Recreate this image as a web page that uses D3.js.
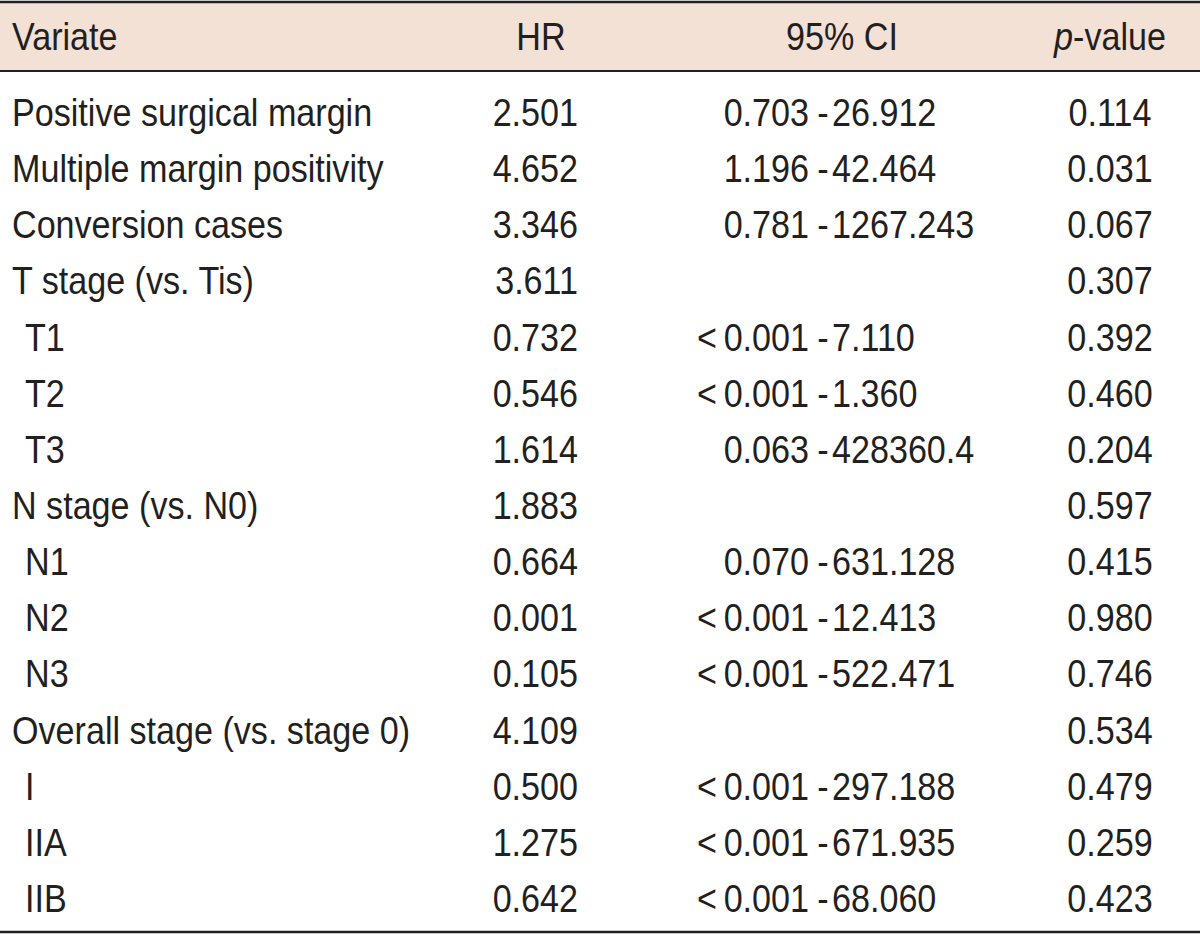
<!DOCTYPE html>
<html>
<head>
<meta charset="utf-8">
<script src="https://cdn.jsdelivr.net/npm/d3@7"></script>
<style>
  html, body { margin: 0; padding: 0; background: #fff; }
  svg { display: block; }
  text { font-family: "Liberation Sans", Arial, sans-serif; fill: #231f20; }
</style>
</head>
<body>
<script>
const headers = ["Variate", "HR", "95% CI", "p-value"];
const variates = ["Positive surgical margin", "Multiple margin positivity", "Conversion cases",
  "T stage (vs. Tis)", "T1", "T2", "T3", "N stage (vs. N0)", "N1", "N2", "N3",
  "Overall stage (vs. stage 0)", "I", "IIA", "IIB"];
const indented = [false, false, false, false, true, true, true, false, true, true, true, false, true, true, true];
const hr = ["2.501", "4.652", "3.346", "3.611", "0.732", "0.546", "1.614", "1.883", "0.664", "0.001", "0.105", "4.109", "0.500", "1.275", "0.642"];
const ciLow = ["0.703", "1.196", "0.781", "", "<\u20090.001", "<\u20090.001", "0.063", "", "0.070", "<\u20090.001", "<\u20090.001", "", "<\u20090.001", "<\u20090.001", "<\u20090.001"];
const ciHigh = ["26.912", "42.464", "1267.243", "", "7.110", "1.360", "428360.4", "", "631.128", "12.413", "522.471", "", "297.188", "671.935", "68.060"];
const pValues = ["0.114", "0.031", "0.067", "0.307", "0.392", "0.460", "0.204", "0.597", "0.415", "0.980", "0.746", "0.534", "0.479", "0.259", "0.423"];

const W = 1200, H = 935;
const svg = d3.select("body").append("svg").attr("width", W).attr("height", H);

const fs = 39;
const sx = 0.875;
const rows = d3.range(variates.length);
const y = d3.scaleLinear().domain([0, variates.length - 1]).range([126, 126 + 56.14 * 14]);

function place(sel, xf, yf) {
  return sel.attr("transform", (d, i) => {
    const xv = typeof xf === "function" ? xf(d, i) : xf;
    const yv = typeof yf === "function" ? yf(d, i) : yf;
    return `translate(${xv},${yv}) scale(${sx},1)`;
  });
}

// header band
svg.append("rect").attr("x", 0).attr("y", 2).attr("width", W).attr("height", 69).attr("fill", "#f3e1d6");
svg.append("line").attr("x1", 0).attr("x2", W).attr("y1", 2).attr("y2", 2).attr("stroke", "#231f20").attr("stroke-width", 2.5);
svg.append("line").attr("x1", 0).attr("x2", W).attr("y1", 71).attr("y2", 71).attr("stroke", "#231f20").attr("stroke-width", 2);
svg.append("line").attr("x1", 0).attr("x2", W).attr("y1", 932).attr("y2", 932).attr("stroke", "#231f20").attr("stroke-width", 2.5);

// header texts
const hb = 50;
const hg = svg.append("g").attr("font-size", fs);
place(hg.append("text"), 12, hb).text(headers[0]);
place(hg.append("text"), 541, hb).attr("text-anchor", "middle").text(headers[1]);
place(hg.append("text"), 842, hb).attr("text-anchor", "middle").text(headers[2]);
const pv = place(hg.append("text"), 1110, hb).attr("text-anchor", "middle");
pv.append("tspan").attr("font-style", "italic").text(headers[3].slice(0, 1));
pv.append("tspan").text(headers[3].slice(1));

const g = svg.append("g").attr("font-size", fs);
place(g.selectAll("text.var").data(rows).join("text").attr("class", "var"),
  i => indented[i] ? 25 : 12, i => y(i)).text(i => variates[i]);
place(g.selectAll("text.hr").data(rows).join("text").attr("class", "hr"),
  578, i => y(i)).attr("text-anchor", "end").text(i => hr[i]);
place(g.selectAll("text.lo").data(rows.filter(i => ciLow[i])).join("text").attr("class", "lo"),
  809, i => y(i)).attr("text-anchor", "end").text(i => ciLow[i]);
place(g.selectAll("text.dash").data(rows.filter(i => ciLow[i])).join("text").attr("class", "dash"),
  823, i => y(i)).attr("text-anchor", "middle").text("-");
place(g.selectAll("text.hi").data(rows.filter(i => ciHigh[i])).join("text").attr("class", "hi"),
  832, i => y(i)).text(i => ciHigh[i]);
place(g.selectAll("text.p").data(rows).join("text").attr("class", "p"),
  1110, i => y(i)).attr("text-anchor", "middle").text(i => pValues[i]);
</script>
</body>
</html>
